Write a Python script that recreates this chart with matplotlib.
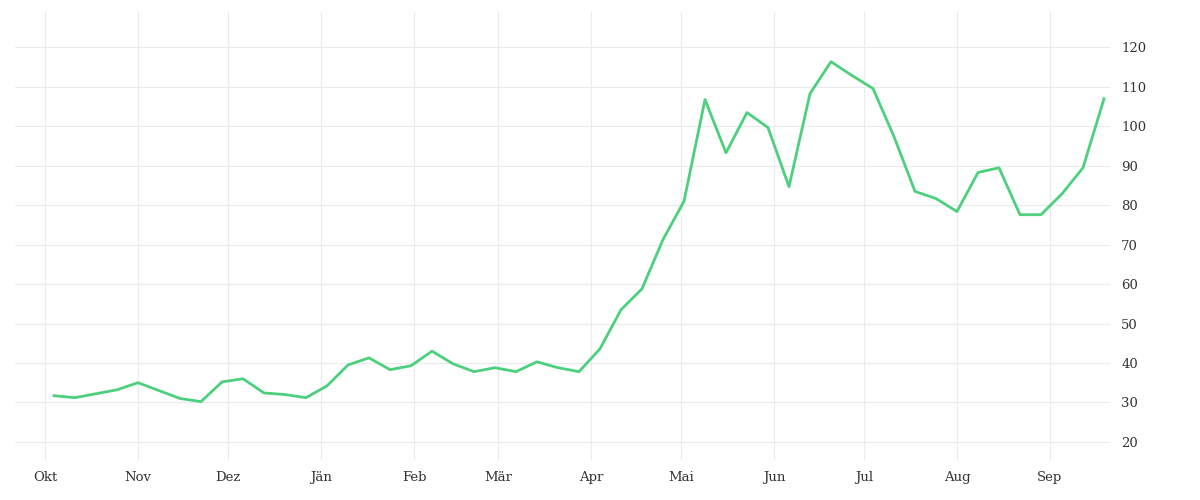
import matplotlib
matplotlib.use("Agg")
import matplotlib.pyplot as plt
import datetime as dt

start = dt.date(2021, 10, 4)
dates = [start + dt.timedelta(days=7 * i) for i in range(50)] + [dt.date(2022, 9, 19)]
values = [31.7, 31.2, 32.2, 33.2, 35.0, 33.0, 31.0, 30.2, 35.2, 36.0,
          32.4, 32.0, 31.2, 34.2, 39.5, 41.3, 38.3, 39.3, 43.0, 39.8,
          37.8, 38.8, 37.8, 40.3, 38.8, 37.8, 43.6, 53.5, 58.8, 71.3,
          81.0, 106.8, 93.3, 103.5, 99.7, 84.7, 108.3, 116.4, 112.9, 109.6,
          97.4, 83.5, 81.7, 78.4, 88.3, 89.5, 77.6, 77.6, 82.9, 89.5, 107.0]
month_labels = ["Okt", "Nov", "Dez", "Jän", "Feb", "Mär", "Apr", "Mai", "Jun", "Jul", "Aug", "Sep"]
month_ticks = [dt.date(2021, 10, 1), dt.date(2021, 11, 1), dt.date(2021, 12, 1), dt.date(2022, 1, 1),
               dt.date(2022, 2, 1), dt.date(2022, 3, 1), dt.date(2022, 4, 1), dt.date(2022, 5, 1),
               dt.date(2022, 6, 1), dt.date(2022, 7, 1), dt.date(2022, 8, 1), dt.date(2022, 9, 1)]
yticks = [20, 30, 40, 50, 60, 70, 80, 90, 100, 110, 120]

plt.rcParams['font.family'] = ['DejaVu Serif']
fig = plt.figure(figsize=(12, 5), dpi=100)
ax = fig.add_axes([0.0125, 0.08, 0.9125, 0.896])
ax.plot(dates, values, color="#4cd07d", lw=2.0)
ax.set_xticks(month_ticks)
ax.set_xticklabels(month_labels)
ax.set_yticks(yticks)
ax.yaxis.tick_right()
ax.set_ylim(15.4, 129)
ax.set_xlim(dt.date(2021, 9, 21), dt.date(2022, 9, 21))
ax.grid(True, color="#ebebeb", lw=0.8)
for s in ax.spines.values():
    s.set_visible(False)
ax.tick_params(axis="both", length=0, labelsize=9.5, colors="#333333", pad=8)
fig.savefig("out.png")
